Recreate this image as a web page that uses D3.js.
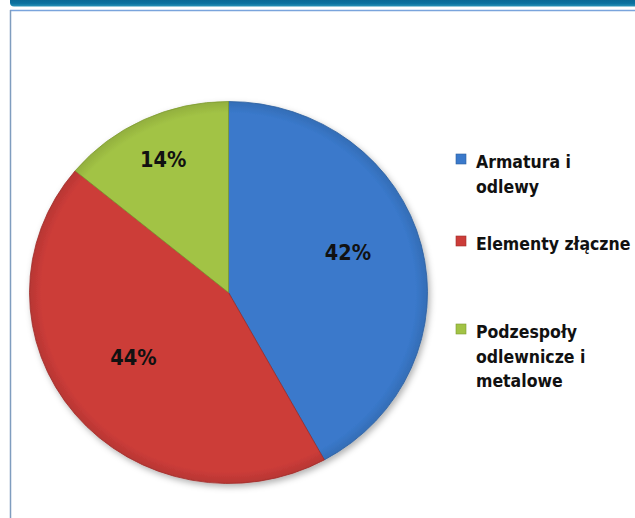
<!DOCTYPE html>
<html><head><meta charset="utf-8">
<script src="https://cdn.jsdelivr.net/npm/d3@7"></script>
<style>html,body{margin:0;padding:0;background:#fff;}svg{display:block;}</style>
</head><body>
<svg id="chart" width="635" height="518"></svg>
<script>
const categories = ["Armatura i odlewy", "Elementy złączne", "Podzespoły odlewnicze i metalowe"];
const legendLines = [["Armatura i", "odlewy"], ["Elementy złączne"], ["Podzespoły", "odlewnicze i", "metalowe"]];
const values = [42, 44, 14];
const labels = ["42%", "44%", "14%"];
const colors = ["#3a79cb", "#cc3c39", "#a2c345"];
const darkColors = ["#2c5f9e", "#9e2c2a", "#7d9a30"];

const svg = d3.select("#chart");
const W = 635, H = 518;

// frame
const defs = svg.append("defs");
const bar = defs.append("linearGradient").attr("id","bar").attr("x1",0).attr("y1",0).attr("x2",0).attr("y2",1);
bar.append("stop").attr("offset","0%").attr("stop-color","#0a5f88");
bar.append("stop").attr("offset","70%").attr("stop-color","#0b72a0");
bar.append("stop").attr("offset","100%").attr("stop-color","#2a93b8");
svg.append("rect").attr("x",10).attr("y",-4).attr("width",W).attr("height",10.5).attr("rx",4).attr("fill","url(#bar)");
svg.append("line").attr("x1",10).attr("x2",W).attr("y1",10.5).attr("y2",10.5).attr("stroke","#7aa4dc").attr("stroke-width",1.5);
svg.append("line").attr("x1",10.5).attr("x2",10.5).attr("y1",10).attr("y2",H).attr("stroke","#7f9dbf").attr("stroke-width",1.5);

// shadow filter
const f = defs.append("filter").attr("id","sh").attr("x","-10%").attr("y","-10%").attr("width","130%").attr("height","130%");
f.append("feDropShadow").attr("dx",2).attr("dy",3).attr("stdDeviation",3).attr("flood-color","#000").attr("flood-opacity",0.3);

// slice gradients (bevel-like)
colors.forEach((c,i)=>{
  const g = defs.append("radialGradient").attr("id","g"+i)
    .attr("gradientUnits","userSpaceOnUse").attr("cx",0).attr("cy",0).attr("r",191);
  g.append("stop").attr("offset","0%").attr("stop-color",c);
  g.append("stop").attr("offset","94%").attr("stop-color",c);
  g.append("stop").attr("offset","100%").attr("stop-color",d3.color(c).darker(0.3));
});

const cx = 228.5, cy = 292.5, rx = 199, ry = 191;
const pie = d3.pie().sort(null).value(d=>d)(values);
const arc = d3.arc().innerRadius(0).outerRadius(ry);

const gPie = svg.append("g").attr("transform",`translate(${cx},${cy}) scale(${rx/ry},1)`);
const gShadow = gPie.append("g").attr("filter","url(#sh)");
gShadow.selectAll("path").data(pie).join("path")
  .attr("d",arc)
  .attr("fill",(d,i)=>`url(#g${i})`)
  .attr("stroke",(d,i)=>darkColors[i]).attr("stroke-width",0.8)
  .attr("vector-effect","non-scaling-stroke");

// labels (best-fit style: small slices further out, large ones nudged up)
svg.append("g").selectAll("text").data(pie).join("text")
  .attr("transform", d=>{
    const small = (d.endAngle - d.startAngle) < 1;
    const frac = small ? 0.77 : 0.62;
    const a = (d.startAngle + d.endAngle)/2;
    const x = cx + Math.sin(a)*rx*frac;
    const y = cy - Math.cos(a)*ry*frac - (small ? 0 : 11);
    return `translate(${x},${y})`;
  })
  .attr("text-anchor","middle").attr("dy","0.36em")
  .attr("font-family","'DejaVu Sans Condensed','DejaVu Sans',sans-serif")
  .attr("font-weight","bold").attr("font-size",21.5).attr("fill","#111")
  .text((d,i)=>labels[i]);

// legend
const legendTops = [168, 250, 338];
const lg = svg.append("g");
legendLines.forEach((lines,i)=>{
  const y0 = legendTops[i];
  lg.append("rect").attr("x",456).attr("y",y0-14).attr("width",10).attr("height",10)
    .attr("fill",colors[i]).attr("stroke",darkColors[i]).attr("stroke-width",0.6);
  lines.forEach((t,j)=>{
    lg.append("text").attr("x",476).attr("y",y0 + j*24.5)
      .attr("font-family","'DejaVu Sans Condensed','DejaVu Sans',sans-serif")
      .attr("font-weight","bold").attr("font-size",17.5).attr("fill","#111")
      .text(t);
  });
});
</script>
</body></html>
